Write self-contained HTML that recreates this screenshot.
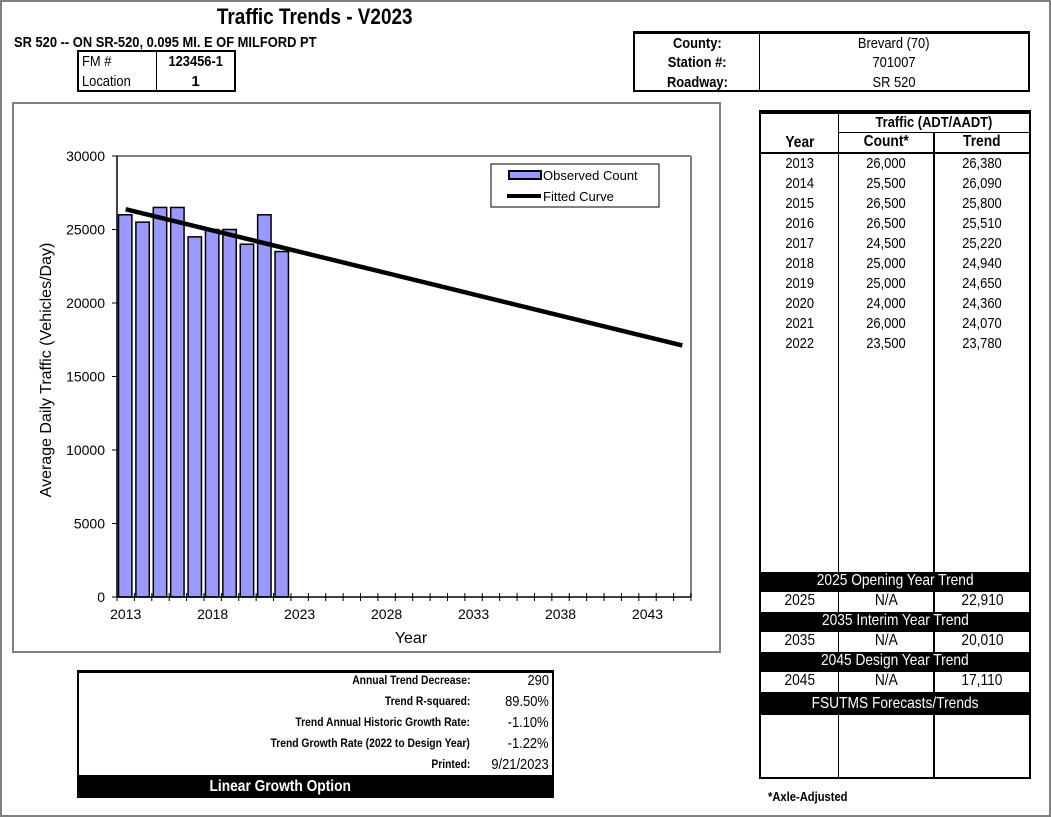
<!DOCTYPE html>
<html><head><meta charset="utf-8">
<style>
*{box-sizing:border-box;margin:0;padding:0}
body{width:1051px;height:817px;position:relative;background:#fff;font-family:"Liberation Sans",Arial,sans-serif;color:#000;overflow:hidden}
.abs{position:absolute}
.nar{display:inline-block;transform:scaleX(0.86);transform-origin:center}
.c{text-align:center}
.b{font-weight:bold}
</style></head><body>
<div class="abs" style="left:0;top:0;width:1051px;height:817px;border:2px solid #808080"></div>
<div class="abs c b" style="left:150px;top:4px;width:330px;font-size:22px"><span class="nar">Traffic Trends - V2023</span></div>
<div class="abs b" style="left:14px;top:34px;font-size:15px;white-space:nowrap"><span class="nar" style="transform-origin:left">SR 520 -- ON SR-520, 0.095 MI. E OF MILFORD PT</span></div>

<div class="abs" style="left:77px;top:50px;width:159px;height:42px;border:2px solid #000;font-size:15px">
 <div class="abs" style="left:77px;top:0;width:1px;height:38px;background:#000"></div>
 <div class="abs" style="left:3px;top:1px"><span class="nar" style="transform-origin:left">FM #</span></div>
 <div class="abs b c" style="left:78px;top:1px;width:77px"><span class="nar">123456-1</span></div>
 <div class="abs" style="left:3px;top:21px"><span class="nar" style="transform-origin:left">Location</span></div>
 <div class="abs b c" style="left:78px;top:21px;width:77px">1</div>
</div>

<div class="abs" style="left:633px;top:31px;width:397px;height:61px;border:2px solid #000;border-top-width:3px;font-size:15px">
 <div class="abs" style="left:124px;top:0;width:1px;height:56px;background:#000"></div>
 <div class="abs b c" style="left:0;top:1px;width:124px"><span class="nar">County:</span></div>
 <div class="abs b c" style="left:0;top:20px;width:124px"><span class="nar">Station #:</span></div>
 <div class="abs b c" style="left:0;top:40px;width:124px"><span class="nar">Roadway:</span></div>
 <div class="abs c" style="left:125px;top:1px;width:268px"><span class="nar">Brevard (70)</span></div>
 <div class="abs c" style="left:125px;top:20px;width:268px"><span class="nar">701007</span></div>
 <div class="abs c" style="left:125px;top:40px;width:268px"><span class="nar">SR 520</span></div>
</div>

<svg class="abs" style="left:0;top:0" width="1051" height="817" id="chart"></svg>

<div class="abs" style="left:759px;top:110px;width:272px;height:669px;border:2px solid #000;border-top-width:4px;font-size:15px" id="tbl"></div>
<div class="abs b" style="left:768px;top:789px;font-size:13px"><span class="nar" style="transform-origin:left">*Axle-Adjusted</span></div>

<div class="abs" style="left:77px;top:670px;width:477px;height:128px;border:2px solid #000;border-top-width:3px;font-size:14px" id="stats"></div>

<script>
const years=[2013,2014,2015,2016,2017,2018,2019,2020,2021,2022];
const counts=[26000,25500,26500,26500,24500,25000,25000,24000,26000,23500];
const trend=[26380,26090,25800,25510,25220,24940,24650,24360,24070,23780];
const trendStart=26380, trendEnd=17110, firstYear=2013, lastYear=2045;
const yTicks=[0,5000,10000,15000,20000,25000,30000];
const xTickLabels=[2013,2018,2023,2028,2033,2038,2043];
const futureYears=[2025,2035,2045];
const futureTrend=["22,910","20,010","17,110"];
const futureTitles=["2025 Opening Year Trend","2035 Interim Year Trend","2045 Design Year Trend"];
const stats=[["Annual Trend Decrease:","290"],["Trend R-squared:","89.50%"],["Trend Annual Historic Growth Rate:","-1.10%"],["Trend Growth Rate (2022 to Design Year)","-1.22%"],["Printed:","9/21/2023"]];

const NS="http://www.w3.org/2000/svg";
const svg=document.getElementById('chart');
function mk(t,a,p){const e=document.createElementNS(NS,t);for(const k in a)e.setAttribute(k,a[k]);(p||svg).appendChild(e);return e;}
const X0=117,X1=691,Y0=597,Y1=156,nCat=lastYear-firstYear+1,cw=(X1-X0)/nCat;
const xc=y=>X0+(y-firstYear+0.5)*cw, xl=y=>X0+(y-firstYear)*cw, yv=v=>Y0-(v/30000)*(Y0-Y1);

let r=mk('rect',{x:13,y:103,width:707,height:549,fill:'#fff',stroke:'#808080','stroke-width':2});

mk('line',{x1:X0,y1:Y1,x2:X1,y2:Y1,stroke:'#808080','stroke-width':2});
mk('line',{x1:X1,y1:Y1,x2:X1,y2:Y0,stroke:'#808080','stroke-width':2});
years.forEach((y,i)=>{const b=mk('rect',{x:xl(y)+1.5,y:yv(counts[i]),width:cw-4,height:Y0-yv(counts[i]),fill:'#9999ff',stroke:'#000','stroke-width':1.5});

});
mk('line',{x1:X0,y1:Y0,x2:X1,y2:Y0,stroke:'#000','stroke-width':1.5});
mk('line',{x1:X0,y1:Y1,x2:X0,y2:Y0,stroke:'#000','stroke-width':1.5});
for(let i=0;i<=nCat;i++){const x=X0+i*cw;mk('line',{x1:x,y1:Y0-4,x2:x,y2:Y0+4,stroke:'#000','stroke-width':1});}
yTicks.forEach(v=>{mk('line',{x1:X0-5,y1:yv(v),x2:X0,y2:yv(v),stroke:'#000'});
const t=mk('text',{x:X0-12,y:yv(v)+5,'text-anchor':'end','font-size':14,fill:'#000'});t.textContent=v;

});
xTickLabels.forEach(v=>{const t=mk('text',{x:xc(v),y:Y0+22,'text-anchor':'middle','font-size':14});t.textContent=v;

});
const fl=mk('line',{x1:xc(firstYear),y1:yv(trendStart),x2:xc(lastYear),y2:yv(trendEnd),stroke:'#000','stroke-width':4.5});

let t=mk('text',{x:411,y:643,'text-anchor':'middle','font-size':16});t.textContent='Year';

t=mk('text',{x:0,y:0,'text-anchor':'middle','font-size':16,transform:'translate(51,370) rotate(-90)'});t.textContent='Average Daily Traffic (Vehicles/Day)';

const lg=mk('g',{});
mk('rect',{x:491,y:164,width:168,height:43,fill:'#fff',stroke:'#000','stroke-width':1},lg);
mk('rect',{x:509,y:171,width:32,height:8,fill:'#9999ff',stroke:'#000','stroke-width':2},lg);
t=mk('text',{x:543,y:180,'font-size':13},lg);t.textContent='Observed Count';
mk('line',{x1:507,y1:196,x2:541,y2:196,stroke:'#000','stroke-width':4},lg);
t=mk('text',{x:543,y:201,'font-size':13},lg);t.textContent='Fitted Curve';

// table
const tbl=document.getElementById('tbl');
function d(html,st,name){const e=document.createElement('div');e.className='abs';e.style.cssText=st;e.innerHTML=html;


tbl.appendChild(e);return e;}
d('','left:77px;top:0;width:1px;height:663px;background:#000','col-line');
d('','left:172px;top:18px;width:2px;height:645px;background:#000','col-line');
d('','left:77px;top:18px;width:191px;height:1px;background:#000','header-line');
d('','left:0;top:38px;width:268px;height:2px;background:#000','header-line');
d('<span class="nar">Traffic (ADT/AADT)</span>','left:78px;top:0;width:190px;text-align:center;font-weight:bold','traffic-header');
d('<span class="nar">Year</span>','left:0;top:20px;width:77px;text-align:center;font-weight:bold;font-size:16px','year-header');
d('<span class="nar">Count*</span>','left:78px;top:19px;width:94px;text-align:center;font-weight:bold;font-size:16px','count-header');
d('<span class="nar">Trend</span>','left:174px;top:19px;width:94px;text-align:center;font-weight:bold;font-size:16px','trend-header');
years.forEach((y,i)=>{const top=41+i*20;
d('<span class="nar">'+y+'</span>','left:0;top:'+top+'px;width:77px;text-align:center;background:#fff','year-cell');
d('<span class="nar">'+counts[i].toLocaleString('en-US')+'</span>','left:78px;top:'+top+'px;width:94px;text-align:center;background:#fff','count-cell');
d('<span class="nar">'+trend[i].toLocaleString('en-US')+'</span>','left:174px;top:'+top+'px;width:94px;text-align:center;background:#fff','trend-cell');});
futureYears.forEach((y,i)=>{const top=458+i*40;
d('<span class="nar">'+futureTitles[i]+'</span>','left:0;top:'+top+'px;width:268px;height:20px;background:#000;color:#fff;text-align:center;font-size:16px','future-band');
d('<span class="nar">'+y+'</span>','left:0;top:'+(top+20)+'px;width:77px;text-align:center;font-size:16px','future-year');
d('<span class="nar">N/A</span>','left:78px;top:'+(top+20)+'px;width:94px;text-align:center;font-size:16px','future-count');
d('<span class="nar">'+futureTrend[i]+'</span>','left:174px;top:'+(top+20)+'px;width:94px;text-align:center;font-size:16px','future-trend');});
d('<span class="nar">FSUTMS Forecasts/Trends</span>','left:0;top:578px;width:268px;height:23px;line-height:23px;background:#000;color:#fff;text-align:center;font-size:16px','fsutms-band');

// stats
const st=document.getElementById('stats');
stats.forEach((s,i)=>{const top=-2+i*21;
const a=document.createElement('div');a.className='abs b';a.style.cssText='right:82px;top:'+(top-1)+'px;font-size:12px;white-space:nowrap;line-height:20px';a.innerHTML='<span class="nar" style="transform-origin:right">'+s[0]+'</span>';


st.appendChild(a);
const v=document.createElement('div');v.className='abs';v.style.cssText='right:3px;top:'+top+'px;font-size:15px;white-space:nowrap;line-height:20px';v.innerHTML='<span class="nar" style="transform-origin:right">'+s[1]+'</span>';


st.appendChild(v);});
const band=document.createElement('div');band.className='abs b';band.style.cssText='left:0;top:102px;width:473px;height:22px;background:#000;color:#fff;font-size:16px;line-height:24px;text-align:center;padding-right:70px';band.innerHTML='<span class="nar">Linear Growth Option</span>';


st.appendChild(band);
</script>
</body></html>
